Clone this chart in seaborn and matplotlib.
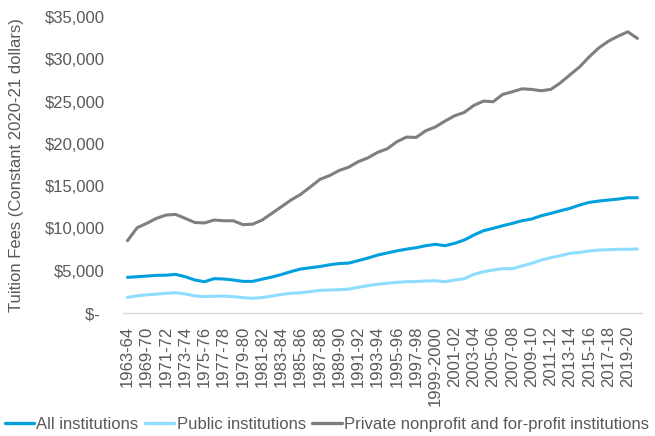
import matplotlib
matplotlib.use("Agg")
import matplotlib.pyplot as plt
import seaborn as sns
import pandas as pd
from matplotlib.lines import Line2D

# Academic years (every other one gets a tick label)
years = ["1963-64", "1968-69"] + [f"{y}-{str(y + 1)[-2:]}" if y != 1999 else "1999-2000"
                                  for y in range(1969, 2021)]

# Average tuition and fees, constant 2020-21 dollars
all_institutions = [
    4220, 4290, 4370, 4450, 4470, 4570, 4290, 3900, 3700, 4060,
    4020, 3900, 3740, 3740, 4000, 4250, 4550, 4900, 5200, 5350,
    5500, 5700, 5850, 5900, 6200, 6500, 6850, 7100, 7350, 7550,
    7720, 7960, 8120, 7960, 8240, 8630, 9220, 9730, 10010, 10320,
    10600, 10910, 11110, 11500, 11780, 12090, 12380, 12770, 13080, 13240,
    13360, 13470, 13630, 13630,
]
public_institutions = [
    1850, 2030, 2150, 2230, 2330, 2400, 2250, 2020, 1930, 1980,
    2000, 1930, 1820, 1740, 1830, 2000, 2200, 2330, 2400, 2520,
    2680, 2720, 2760, 2820, 3050, 3230, 3400, 3520, 3620, 3700,
    3720, 3780, 3820, 3700, 3900, 4050, 4570, 4880, 5080, 5240,
    5240, 5560, 5870, 6260, 6540, 6780, 7060, 7170, 7330, 7450,
    7480, 7530, 7530, 7570,
]
private_institutions = [
    8550, 10080, 10600, 11190, 11580, 11660, 11190, 10700, 10650, 10990,
    10910, 10900, 10450, 10500, 10990, 11780, 12570, 13360, 14030, 14900,
    15800, 16250, 16850, 17250, 17900, 18350, 19000, 19420, 20250, 20800,
    20760, 21550, 22000, 22690, 23320, 23720, 24550, 25060, 24980, 25850,
    26160, 26510, 26440, 26280, 26440, 27220, 28170, 29110, 30300, 31360,
    32150, 32740, 33250, 32470,
]

series_names = [
    "All institutions",
    "Public institutions",
    "Private nonprofit and for-profit institutions",
]
colors = ["#00A0DC", "#8DDDFF", "#7F7F7F"]

frames = []
for name, vals in zip(series_names, [all_institutions, public_institutions, private_institutions]):
    frames.append(pd.DataFrame({"pos": range(len(years)), "year": years,
                                "fee": vals, "series": name}))
df = pd.concat(frames, ignore_index=True)

sns.set_theme(style="white")
plt.rcParams["font.family"] = ["Liberation Sans", "DejaVu Sans"]

text_color = "#595959"
fs = 12
fig = plt.figure(figsize=(6.55, 4.36), dpi=100)
ax = fig.add_axes([0.1873, 0.2821, 0.7932, 0.6789])

sns.lineplot(data=df, x="pos", y="fee", hue="series", hue_order=series_names,
             palette=colors, linewidth=2.2, ax=ax, legend=False)

ax.set_xlim(-0.5, len(years) - 0.5)
ax.set_ylim(0, 35000)
ax.set_xticks(range(0, len(years), 2))
ax.set_xticklabels(years[::2], rotation=90, fontsize=fs, color=text_color)
yt = list(range(0, 35001, 5000))
ax.set_yticks(yt)
ax.set_yticklabels(["$- " if v == 0 else f"${v:,}" for v in yt],
                   fontsize=fs, color=text_color)
ax.tick_params(axis="x", length=0, pad=9)
ax.tick_params(axis="y", length=0, pad=13)
for lab in ax.get_xticklabels():
    lab.set_verticalalignment("top")

ax.set_xlabel("")
ax.set_ylabel("Tuition Fees (Constant 2020-21 dollars)", fontsize=fs, color=text_color)
ax.yaxis.set_label_coords(-0.19, 0.5)

for side in ["top", "right", "left"]:
    ax.spines[side].set_visible(False)
ax.spines["bottom"].set_color("#D9D9D9")
ax.spines["bottom"].set_linewidth(1.0)
ax.grid(False)

handles = [Line2D([0], [0], color=c, lw=2.4) for c in colors]
fig.legend(handles, series_names, loc="center", bbox_to_anchor=(0.499, 0.026),
           ncol=3, frameon=False, fontsize=fs, handlelength=1.75,
           handletextpad=0.15, columnspacing=0.4, labelcolor=text_color,
           borderpad=0, borderaxespad=0)

fig.savefig("out.png", dpi=100)
